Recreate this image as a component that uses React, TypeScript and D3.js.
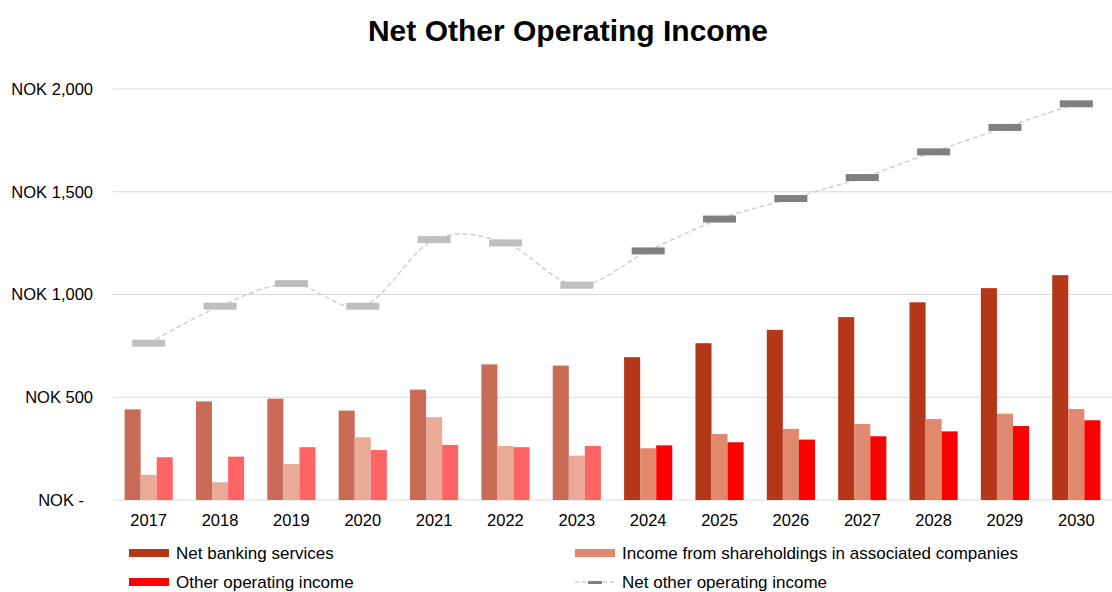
import React from "react";
import * as d3 from "d3";

const years = ["2017","2018","2019","2020","2021","2022","2023","2024","2025","2026","2027","2028","2029","2030"];
const netBanking = [441,480,493,435,537,660,654,695,763,828,890,962,1031,1094];
const associated = [122,86,175,305,403,263,216,252,321,346,370,394,420,443];
const otherIncome = [208,211,257,243,268,257,263,266,281,294,310,334,360,388];
const netOther = [763,943,1053,943,1267,1251,1045,1212,1367,1467,1569,1694,1813,1928];
const forecastFrom = "2024";
const yTicks = [0,500,1000,1500,2000];
const seriesNames = ["Net banking services","Income from shareholdings in associated companies","Other operating income","Net other operating income"];

const W = 1112, H = 592;
const M = { left: 113, right: 1112, top: 89, bottom: 500 };

const histColors = ["#C96B56", "#E9AA97", "#FF6464"];
const fcColors = ["#B5371A", "#E0896E", "#FF0000"];

export default function App() {
  const x = d3.scaleBand<string>().domain(years).range([M.left, M.right]).paddingInner(0).paddingOuter(0);
  const y = d3.scaleLinear().domain([0, 2000]).range([M.bottom, M.top]);
  const bw = x.bandwidth();
  const barW = bw * 0.225;
  const groupW = barW * 3;
  const series = [netBanking, associated, otherIncome];
  const fcIdx = years.indexOf(forecastFrom);

  const line = d3.line<number>()
    .x((_, i) => (x(years[i]) as number) + bw / 2)
    .y((d) => y(d))
    .curve(d3.curveCardinal.tension(0));

  const fmt = (v: number) => (v === 0 ? "NOK -" : "NOK " + d3.format(",")(v));

  return (
    <svg width={W} height={H} style={{ position: "absolute", left: 0, top: 0, fontFamily: "'Liberation Sans', Arial, sans-serif" }}>
      <rect width={W} height={H} fill="#fff" />
      <text x={568} y={41} textAnchor="middle" fontSize={30} fontWeight="bold" fill="#000">Net Other Operating Income</text>
      {yTicks.map((t) => (
        <g key={t}>
          <line x1={M.left} x2={M.right} y1={y(t)} y2={y(t)} stroke="#D9D9D9" strokeWidth={1} />
          <text x={t === 0 ? 84 : 93} y={y(t)} dy="0.35em" textAnchor="end" fontSize={16.5} fill="#000">{fmt(t)}</text>
        </g>
      ))}
      {years.map((yr, i) => {
        const cx = (x(yr) as number) + bw / 2;
        const cols = i >= fcIdx ? fcColors : histColors;
        return (
          <g key={yr}>
            {series.map((s, k) => (
              <rect key={k} x={cx - groupW / 2 + k * barW} y={y(s[i])} width={barW} height={y(0) - y(s[i])} fill={cols[k]} />
            ))}
            <text x={cx} y={520} dy="0.35em" textAnchor="middle" fontSize={16.5} fill="#000">{yr}</text>
          </g>
        );
      })}
      <path d={line(netOther) || ""} fill="none" stroke="#D0D0D0" strokeWidth={1.5} strokeDasharray="5,3" />
      {netOther.map((v, i) => {
        const cx = (x(years[i]) as number) + bw / 2;
        return <rect key={i} x={cx - 16.5} y={y(v) - 3.5} width={33} height={7} fill={i >= fcIdx ? "#808080" : "#BFBFBF"} />;
      })}
      <g fontSize={17} fill="#000">
        <rect x={129} y={549} width={40} height={8} fill={fcColors[0]} />
        <text x={176} y={553} dy="0.35em">{seriesNames[0]}</text>
        <rect x={575} y={549} width={40} height={8} fill={fcColors[1]} />
        <text x={622} y={553} dy="0.35em">{seriesNames[1]}</text>
        <rect x={129} y={578} width={40} height={8} fill={fcColors[2]} />
        <text x={176} y={582} dy="0.35em">{seriesNames[2]}</text>
        <line x1={575} x2={615} y1={582} y2={582} stroke="#D0D0D0" strokeWidth={1.5} strokeDasharray="4,3" />
        <rect x={588} y={581} width={14} height={3} fill="#808080" />
        <text x={622} y={582} dy="0.35em">{seriesNames[3]}</text>
      </g>
    </svg>
  );
}
